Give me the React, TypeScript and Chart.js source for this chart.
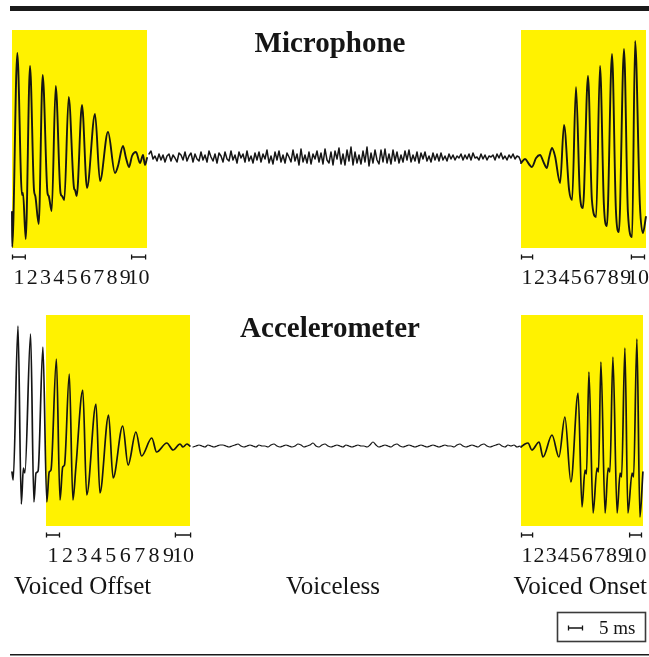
import { useEffect, useRef } from 'react';
import { Chart, registerables } from 'chart.js';
Chart.register(...registerables);

// ---------- data (time in ms, amplitude in arbitrary units) ----------
const micOffsetT = [0, 0.07, 1.77, 3.33, 3.67, 4.57, 6.0, 7.33, 7.77, 8.9, 10.23, 11.83, 12.23, 13.23, 14.57, 16.17, 16.67, 17.43, 18.9, 20.67, 21.0, 21.57, 23.33, 25.0, 27.67, 29.33, 32.0, 34.33, 35.33, 37.0, 38.0, 39.0, 40.0, 41.33, 42.67, 43.67, 44.33, 45.0];
const micOffsetV = [-55, -90, 104, -38, -36, -82, 91, -33, -39, -67, 82, -36, -39, -54, 71, -36, -39, -43, 60, -31, -33, -39, 52, -31, 43, -24, 25, -16, -9, 11, -1, -10, 1, 5, -6, 2, -8, -1];

const micNoiseStartMs = 45.667;
const micNoiseStepMs = 2 / 3;
const micNoiseV = [
  3, 6, -2, 1, -4, 3, -3, 2, -5, 1, 3, -4, 2, -1, -5, 4, 2, -3, 5, -4, 1, 4, -5, 3, -2, -4,
  5, -3, 2, -5, 6, 0, -4, 3, -6, 4, 1, -5, 5, -2, -4, 6, -3, 2, -6, 5, -1, 3, -5, 6, -4, 1, -6, 4, -3, 5,
  -5, 3, -2, 7, -6, 1, -7, 5, -3, 6, -5, 2, -6, 4, 0, -5, 7, -4, 3, -8, 8, -5, 2, -6, 5, -7, 3, -2, 6, -5,
  4, -7, 8, -3, -6, 5, -8, 6, -2, 9, -7, 3, -8, 7, -4, 10, -8, 5, -6, 2, -7, 6, -5, 10, -9, 4, -6, 7, -3, -7,
  7, -5, 8, -6, 3, -7, 7, -4, 5, -6, 2, -5, 6, -3, 7, -5, 2, -4, 5, -6, 4, -2, 5, -4, 1, -5, 4, -3, 3, -4,
  4, -3, 1, -4, 3, -2, 2, -3, 1, -1, 3, -3, 2, -2, 3, -3, 4, -1, 0, -3, 3, -2, 2, -3, 1, 0, 2, -3, 3, -1, 4, -2, 1, -3, 2, -1, 3, -2, 1, 0, -5,
];

const micOnsetT = [169.67, 171.0, 172.3, 173.3, 174.7, 176.0, 177.3, 178.3, 179.0, 180.0, 181.0, 182.7, 184.0, 185.7, 186.7, 188.0, 189.3, 190.3, 192.0, 193.3, 194.7, 196.0, 197.3, 198.3, 200.0, 201.3, 202.3, 204.0, 205.3, 206.7, 207.7, 209.3, 210.3, 211.3];
const micOnsetV = [-6, -2, -7, -10, -1, 2, -6, -11, -1, 9, 1, -26, 32, -33, -43, 70, -38, -51, 81, -43, -60, 91, -48, -69, 103, -53, -75, 108, -55, -80, 116, -48, -76, -60];

const accOffsetT = [0, 0.4, 2.0, 3.1, 3.8, 4.3, 6.2, 7.3, 8.0, 8.7, 10.3, 11.6, 12.4, 13.0, 14.8, 16.0, 16.9, 17.5, 19.1, 20.3, 21.3, 23.6, 24.9, 28.0, 29.3, 32.2, 33.7, 36.9, 38.7, 41.3, 43.2, 46.6, 48.2, 51.6, 53.7, 56.0, 57.0, 58.3, 59.3];
const accOffsetV = [-26, -34, 120, -58, -22, -27, 112, -56, -27, -25, 99, -56, -26, -24, 87, -54, -21, -19, 72, -54, -21, 56, -49, 42, -47, 31, -32, 20, -19, 14, -10, 8, -6, 3, -4, 2, -1, 2, 0];

const accNoiseStartMs = 60.33;
const accNoiseStepMs = 1;
const accNoiseV = [
  -1, 0, 1, 0, -1, 1, 0, -1, 0,
  1, 1, 0, -1, 0, 1, 2, 0, -1, 0,
  1, 0, -1, 1, 0, 0, -1, 1, 2, 0,
  -1, 0, 1, 0, -1, 0, 2, 1, -1, 0,
  1, 3, 0, -1, 1, 2, 0, -1, 0, 1,
  0, -1, 1, 0, -1, 0, 1, 0, 0, -1,
  1, 4, 1, -1, 0, 1, 0, -1, 1, 2,
  0, -1, 0, 1, 0, -1, 0, 1, 0, -1,
  0, 1, 0, -1, 0, 1, 0, 0, -1, 1,
  2, 0, -1, 0, 1, 0, -1, 1, 2, 0,
  -1, 0, 1, 2, 0, -1, 1, 0, 1, -1, 0,
];

const accOnsetT = [169.67, 171.0, 172.0, 173.3, 175.7, 177.0, 180.0, 182.3, 184.3, 186.3, 188.7, 190.0, 191.0, 191.5, 192.3, 193.7, 195.0, 195.5, 196.3, 197.7, 198.7, 199.3, 200.3, 201.7, 202.7, 203.2, 204.3, 205.3, 206.7, 207.2, 208.3, 209.3, 210.3];
const accOnsetV = [-1, 2, 3, -4, 4, -11, 11, -11, 29, -36, 53, -61, -24, -28, 74, -67, -22, -26, 84, -67, -22, -26, 89, -67, -27, -31, 98, -67, -27, -31, 107, -71, -26];

// shaded voiced windows [start ms, end ms] and amplitude extent [top, bottom]
const micWindows = [[0, 45], [169.67, 211.33]];
const micWindowV = [127, -91];
const accWindows = [[11.33, 59.33], [169.67, 210.33]];
const accWindowV = [131, -80];

// period markers: first and tenth period of each window [start ms, end ms]
const micMarks = [[[0, 4.6], [39.7, 44.7]], [[169.67, 173.7], [206.3, 211.0]]];
const accMarks = [[[11.33, 16.0], [54.3, 59.7]], [[169.67, 173.7], [205.7, 210.0]]];
const periodLabels = ['1', '2', '3', '4', '5', '6', '7', '8', '9', '10'];

const panelTitles = ['Microphone', 'Accelerometer'];
const sectionLabels = ['Voiced Offset', 'Voiceless', 'Voiced Onset'];
const scaleBarMs = 5;
const scaleBarLabel = '5 ms';

// ---------- styling ----------
const YELLOW = '#FFF200';
const INK = '#151515';
const SERIF = '"Liberation Serif", "Times New Roman", "DejaVu Serif", serif';
const W = 649;
const H = 657;

const pts = (t: number[], v: number[]) => t.map((x, i) => ({ x, y: v[i] }));
const noisePts = (start: number, step: number, v: number[]) => v.map((y, i) => ({ x: start + i * step, y }));

const overlay = {
  id: 'overlay',
  beforeDatasetsDraw(chart: any) {
    const { ctx, scales } = chart;
    const x = scales.x;
    ctx.save();
    ctx.fillStyle = YELLOW;
    const boxes = (wins: number[][], wv: number[], y: any) => {
      for (const [a, b] of wins) {
        const x0 = x.getPixelForValue(a);
        const x1 = x.getPixelForValue(b);
        const y0 = y.getPixelForValue(wv[0]);
        const y1 = y.getPixelForValue(wv[1]);
        ctx.fillRect(x0, y0, x1 - x0, y1 - y0);
      }
    };
    boxes(micWindows, micWindowV, scales.yMic);
    boxes(accWindows, accWindowV, scales.yAcc);
    ctx.restore();
  },
  afterDatasetsDraw(chart: any) {
    const { ctx, scales } = chart;
    const x = scales.x;
    ctx.save();
    ctx.strokeStyle = INK;

    // frame rules
    ctx.fillStyle = '#1a1a1a';
    ctx.fillRect(10, 6, W - 10, 5);
    ctx.fillRect(10, 654, W - 10, 1.5);
    ctx.fillStyle = INK;

    // titles
    ctx.font = `bold 29px ${SERIF}`;
    ctx.textAlign = 'center';
    ctx.textBaseline = 'alphabetic';
    ctx.fillText(panelTitles[0], 330, 52);
    ctx.fillText(panelTitles[1], 330, 337);

    const bar = (xa: number, xb: number, y: number) => {
      ctx.lineWidth = 1.3;
      ctx.beginPath();
      ctx.moveTo(xa, y);
      ctx.lineTo(xb, y);
      ctx.moveTo(xa + 0.5, y - 2.5);
      ctx.lineTo(xa + 0.5, y + 2.5);
      ctx.moveTo(xb - 0.5, y - 2.5);
      ctx.lineTo(xb - 0.5, y + 2.5);
      ctx.stroke();
    };

    const marks = (sets: number[][][], wv: number[], y: any) => {
      const bottom = y.getPixelForValue(wv[1]);
      const my = bottom + 9;
      const ty = bottom + 36;
      ctx.font = `22px ${SERIF}`;
      ctx.textAlign = 'center';
      for (const [m0, m9] of sets) {
        const a0 = x.getPixelForValue(m0[0]);
        const a1 = x.getPixelForValue(m0[1]);
        const b0 = x.getPixelForValue(m9[0]);
        const b1 = x.getPixelForValue(m9[1]);
        bar(a0, a1, my);
        bar(b0, b1, my);
        const c0 = (a0 + a1) / 2;
        const c9 = (b0 + b1) / 2;
        periodLabels.forEach((lab, i) => {
          ctx.fillText(lab, c0 + ((c9 - c0) * i) / 9, ty);
        });
      }
    };
    marks(micMarks, micWindowV, scales.yMic);
    marks(accMarks, accWindowV, scales.yAcc);

    // section labels
    ctx.font = `25px ${SERIF}`;
    ctx.textAlign = 'left';
    ctx.fillText(sectionLabels[0], 14, 594);
    ctx.textAlign = 'center';
    ctx.fillText(sectionLabels[1], 333, 594);
    ctx.textAlign = 'right';
    ctx.fillText(sectionLabels[2], 647, 594);

    // scale box
    ctx.strokeStyle = '#3a3a3a';
    ctx.lineWidth = 1.6;
    ctx.strokeRect(557.5, 612.5, 88, 29);
    ctx.strokeStyle = INK;
    const len = x.getPixelForValue(scaleBarMs) - x.getPixelForValue(0);
    bar(568, 568 + len, 628);
    ctx.font = `19px ${SERIF}`;
    ctx.textAlign = 'left';
    ctx.fillText(scaleBarLabel, 599, 634);
    ctx.restore();
  },
};

export default function App() {
  const ref = useRef<HTMLCanvasElement | null>(null);
  useEffect(() => {
    if (!ref.current) return;
    const line = (data: any[], axis: string, width: number, smooth: boolean) => ({
      data,
      yAxisID: axis,
      xAxisID: 'x',
      borderColor: INK,
      borderWidth: width,
      borderJoinStyle: 'round',
      borderCapStyle: 'round',
      pointRadius: 0,
      fill: false,
      tension: 0,
      cubicInterpolationMode: smooth ? 'monotone' : 'default',
    });
    const chart = new Chart(ref.current, {
      type: 'line',
      data: {
        datasets: [
          line(pts(micOffsetT, micOffsetV), 'yMic', 1.9, true),
          line(noisePts(micNoiseStartMs, micNoiseStepMs, micNoiseV), 'yMic', 1.5, false),
          line(pts(micOnsetT, micOnsetV), 'yMic', 1.9, true),
          line(pts(accOffsetT, accOffsetV), 'yAcc', 1.7, true),
          line(noisePts(accNoiseStartMs, accNoiseStepMs, accNoiseV), 'yAcc', 1.2, true),
          line(pts(accOnsetT, accOnsetV), 'yAcc', 1.7, true),
        ] as any,
      },
      options: {
        animation: false,
        responsive: false,
        devicePixelRatio: 1,
        layout: { padding: 0 },
        plugins: { legend: { display: false }, tooltip: { enabled: false }, title: { display: false } },
        events: [],
        scales: {
          x: { type: 'linear', min: -4, max: 212.333, display: false },
          yMic: { type: 'linear', position: 'left', min: -500, max: 157, display: false },
          yAcc: { type: 'linear', position: 'left', min: -211, max: 446, display: false },
        },
      },
      plugins: [overlay],
    } as any);
    return () => chart.destroy();
  }, []);
  return (
    <div style={{ position: 'fixed', left: 0, top: 0, width: W, height: H, background: '#fff' }}>
      <canvas ref={ref} width={W} height={H} style={{ width: W, height: H, display: 'block' }} />
    </div>
  );
}
